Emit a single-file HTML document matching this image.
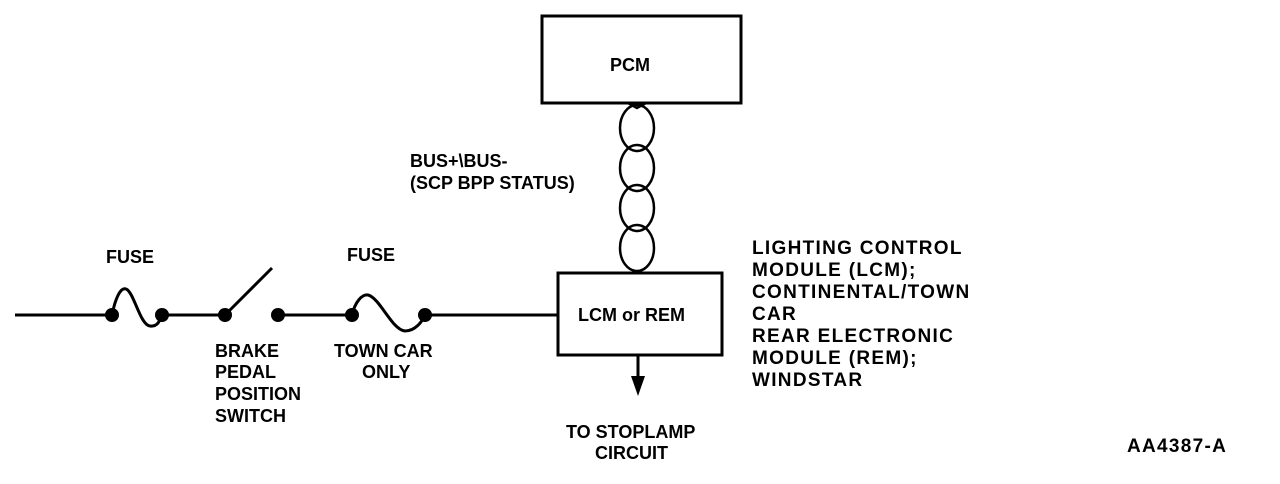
<!DOCTYPE html>
<html><head><style>
html,body{margin:0;padding:0;background:#fff;}
svg{display:block;}
text{font-family:"Liberation Sans",Arial,sans-serif;fill:#000;}
.b{font-weight:bold;font-size:19px;letter-spacing:1.3px;}
.n{font-size:18px;font-weight:bold;}
</style></head><body>
<svg width="1280" height="484" viewBox="0 0 1280 484" xmlns="http://www.w3.org/2000/svg">
<g fill="none" stroke="#000" stroke-width="3">
<rect x="542" y="16" width="199" height="87"/>
<rect x="558" y="273" width="164" height="82"/>
<line x1="15" y1="315" x2="112" y2="315"/>
<line x1="162" y1="315" x2="225" y2="315"/>
<line x1="225" y1="315" x2="272" y2="268"/>
<line x1="278" y1="315" x2="352" y2="315"/>
<line x1="425" y1="315" x2="558" y2="315"/>
<path d="M112,315 C115,300 120,287 126,289 C134,292 140,325 150,326 C158,327 160,320 162,315"/>
<path d="M352,315 C355,302 362,294 368,295 C380,298 392,330 405,331 C415,331 422,322 425,315"/>
<line x1="638" y1="355" x2="638" y2="380"/>
<g stroke-width="2.5">
<ellipse cx="637" cy="128" rx="17" ry="23"/>
<ellipse cx="637" cy="168" rx="17" ry="23"/>
<ellipse cx="637" cy="208" rx="17" ry="23"/>
<ellipse cx="637" cy="248" rx="17" ry="23"/>
<path d="M628,103 L637,108 L646,103"/>
</g>
</g>
<polygon points="631,376 645,376 638,396" fill="#000"/>
<g fill="#000">
<circle cx="112" cy="315" r="7"/><circle cx="162" cy="315" r="7"/>
<circle cx="225" cy="315" r="7"/><circle cx="278" cy="315" r="7"/>
<circle cx="352" cy="315" r="7"/><circle cx="425" cy="315" r="7"/>
</g>
<text class="n" x="610" y="71">PCM</text>
<text class="n" x="578" y="321">LCM or REM</text>
<text class="n" x="106" y="263">FUSE</text>
<text class="n" x="347" y="261">FUSE</text>
<text class="n" x="410" y="167">BUS+\BUS-</text>
<text class="n" x="410" y="189">(SCP BPP STATUS)</text>
<text class="n" x="215" y="357">BRAKE</text>
<text class="n" x="215" y="378">PEDAL</text>
<text class="n" x="215" y="400">POSITION</text>
<text class="n" x="215" y="422">SWITCH</text>
<text class="n" x="334" y="357">TOWN CAR</text>
<text class="n" x="362" y="378">ONLY</text>
<text class="n" x="566" y="438">TO STOPLAMP</text>
<text class="n" x="595" y="459">CIRCUIT</text>
<g class="b">
<text x="752" y="254">LIGHTING CONTROL</text>
<text x="752" y="276">MODULE (LCM);</text>
<text x="752" y="298">CONTINENTAL/TOWN</text>
<text x="752" y="320">CAR</text>
<text x="752" y="342">REAR ELECTRONIC</text>
<text x="752" y="364">MODULE (REM);</text>
<text x="752" y="386">WINDSTAR</text>
<text x="1127" y="452">AA4387-A</text>
</g>
</svg>
</body></html>
